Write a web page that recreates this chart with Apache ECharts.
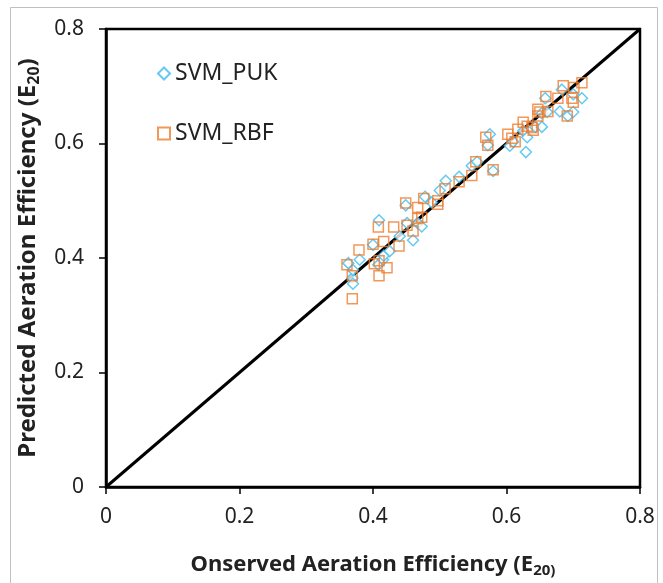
<!DOCTYPE html>
<html><head><meta charset="utf-8">
<script src="https://cdn.jsdelivr.net/npm/echarts@6/dist/echarts.min.js"></script>
<style>html,body{margin:0;padding:0;background:#fff}#c{width:663px;height:583px}</style>
</head><body><div id="c"></div>
<script>
const xTicks = [0, 0.2, 0.4, 0.6, 0.8];
const yTicks = [0, 0.2, 0.4, 0.6, 0.8];
const seriesNames = ['SVM_PUK', 'SVM_RBF'];
const pukObserved = [0.363,0.369,0.370,0.370,0.380,0.400,0.408,0.409,0.415,0.416,0.425,0.440,0.449,0.451,0.460,0.467,0.473,0.478,0.488,0.500,0.509,0.529,0.548,0.556,0.572,0.575,0.580,0.605,0.610,0.625,0.629,0.631,0.643,0.653,0.653,0.658,0.661,0.680,0.683,0.692,0.700,0.700,0.713];
const pukPredicted = [0.391,0.365,0.355,0.379,0.397,0.423,0.388,0.466,0.397,0.404,0.412,0.438,0.492,0.461,0.431,0.461,0.455,0.507,0.497,0.518,0.535,0.542,0.561,0.568,0.597,0.616,0.552,0.596,0.603,0.622,0.585,0.611,0.629,0.629,0.653,0.679,0.655,0.656,0.694,0.648,0.655,0.686,0.679];
const rbfObserved = [0.361,0.369,0.369,0.379,0.400,0.402,0.409,0.409,0.408,0.416,0.421,0.431,0.439,0.449,0.451,0.460,0.467,0.467,0.476,0.473,0.497,0.497,0.508,0.529,0.548,0.554,0.569,0.572,0.580,0.602,0.608,0.613,0.617,0.625,0.631,0.638,0.640,0.647,0.647,0.650,0.659,0.662,0.677,0.685,0.691,0.698,0.700,0.701,0.713];
const rbfPredicted = [0.388,0.369,0.329,0.414,0.424,0.390,0.395,0.369,0.454,0.429,0.383,0.454,0.421,0.496,0.457,0.447,0.488,0.469,0.504,0.471,0.500,0.494,0.521,0.533,0.544,0.568,0.611,0.597,0.554,0.616,0.609,0.603,0.625,0.637,0.630,0.628,0.623,0.660,0.648,0.655,0.682,0.656,0.679,0.701,0.648,0.679,0.672,0.698,0.706];
const lineX = [0, 0.8];
const lineY = [0, 0.8];

const zip = (a, b) => a.map((v, i) => [v, b[i]]);
const font = 'Noto Sans';
const chart = echarts.init(document.getElementById('c'));
const axisCommon = {
  type: 'value', min: 0, max: 0.8, interval: 0.2,
  axisLine: { show: true, lineStyle: { color: '#000', width: 2.5 } },
  axisTick: { show: true, length: 7, lineStyle: { color: '#000', width: 1.5 } },
  splitLine: { show: false },
  axisLabel: { color: '#222', fontSize: 21, fontFamily: font, formatter: v => String(+v.toFixed(1)) }
};
const titleRich = (size) => ({
  b: { fontSize: size, fontWeight: 'bold', fontFamily: font, color: '#222' },
  s: { fontSize: Math.round(size * 0.68), fontWeight: 'bold', fontFamily: font, color: '#222', padding: [12, 0, 0, 0] }
});
chart.setOption({
  animation: false,
  graphic: [{ type: 'rect', shape: { x: 10.5, y: 7.5, width: 647, height: 590 }, style: { fill: 'none', stroke: '#c0c0c0', lineWidth: 1 }, silent: true }],
  grid: { left: 106, right: 23, top: 29, bottom: 91, show: true, borderColor: '#000', borderWidth: 2.5 },
  legend: {
    orient: 'vertical', left: 152, top: 57, itemGap: 37, itemWidth: 12, itemHeight: 12,
    textStyle: { fontSize: 23, fontFamily: font, color: '#222' },
    data: seriesNames
  },
  xAxis: Object.assign({}, axisCommon, {
    name: '{b|Onserved Aeration Efficiency (E}{s|20)}', nameLocation: 'middle', nameGap: 64,
    nameTextStyle: { rich: titleRich(22) },
    axisLabel: Object.assign({}, axisCommon.axisLabel, { margin: 20 })
  }),
  yAxis: Object.assign({}, axisCommon, {
    name: '{b|Predicted Aeration Efficiency (E}{s|20}{b|)}', nameLocation: 'middle', nameGap: 64,
    nameTextStyle: { rich: titleRich(24) },
    axisLabel: Object.assign({}, axisCommon.axisLabel, { margin: 22 })
  }),
  series: [
    { name: 'SVM_PUK', type: 'scatter', symbol: 'diamond', symbolSize: 11,
      itemStyle: { color: '#fff', borderColor: '#3dbdf0', borderWidth: 1.5 }, data: zip(pukObserved, pukPredicted), z: 3 },
    { name: 'SVM_RBF', type: 'scatter', symbol: 'rect', symbolSize: 10,
      itemStyle: { color: 'rgba(255,255,255,0)', borderColor: '#ed7d31', borderWidth: 1.5 }, data: zip(rbfObserved, rbfPredicted), z: 4 },
    { name: 'line', type: 'line', data: zip(lineX, lineY), symbol: 'none', lineStyle: { color: '#000', width: 3 }, z: 2, silent: true }
  ]
});
</script></body></html>
